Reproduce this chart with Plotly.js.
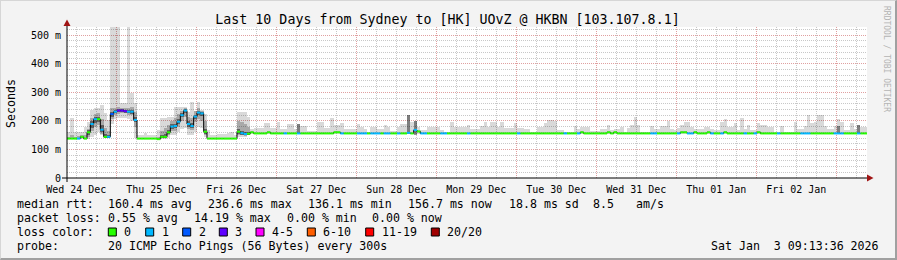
<!DOCTYPE html>
<html><head><meta charset="utf-8">
<script src="https://cdn.plot.ly/plotly-3.0.1.min.js"></script>
<style>
html,body{margin:0;padding:0;background:#f3f3f3;}
#wrap{position:relative;width:897px;height:260px;overflow:hidden;}
#chart{width:897px;height:260px;}
#frame{position:absolute;left:0;top:0;width:897px;height:260px;box-sizing:border-box;border-top:1px solid #d6d6d6;border-left:1px solid #d6d6d6;border-right:2px solid #a0a0a0;border-bottom:2px solid #a0a0a0;pointer-events:none;}
</style></head>
<body><div id="wrap"><div id="chart"></div><div id="frame"></div></div>
<script>
// ---------- DATA (hourly, starting Wed 24 Dec 09:13:36) ----------
const titleText = 'Last 10 Days from Sydney to [HK] UOvZ @ HKBN [103.107.8.1]';
const dayLabels = ['Wed 24 Dec','Thu 25 Dec','Fri 26 Dec','Sat 27 Dec','Sun 28 Dec','Mon 29 Dec','Tue 30 Dec','Wed 31 Dec','Thu 01 Jan','Fri 02 Jan'];
const firstMidnight = 14.773; // hours after start
const yTickVals = [0,100,200,300,400,500];
const yTickText = ['0','100 m','200 m','300 m','400 m','500 m'];

// median rtt (ms)
const medianMs = [
138,138,138,138,144,138,160,189,206,206,169,144,144,224,232,236,236,234,232,232,203,138,138,138,
138,138,138,136,144,144,160,180,182,197,220,236,189,182,215,229,226,162,138,138,138,138,138,138,
138,138,138,162,157,154,155,160,156,156,156,156,160,156,156,156,156,156,156,156,156,156,156,156,
156,156,156,156,156,156,156,156,160,160,156,156,156,156,156,156,156,156,156,156,156,156,156,156,
156,156,156,156,156,156,158,156,168,163,156,156,156,156,156,156,156,156,156,156,156,156,156,156,
156,156,156,156,156,156,156,156,156,156,156,156,156,156,156,156,156,156,156,156,156,156,156,156,
156,156,156,156,156,156,156,156,156,156,160,156,156,156,156,156,156,156,160,156,160,156,156,156,
156,156,156,156,156,156,156,156,156,156,156,156,156,156,156,156,160,160,156,156,160,156,156,156,
160,156,156,156,156,160,156,156,156,156,156,156,156,156,156,160,156,156,156,156,156,156,156,156,
156,156,156,156,156,156,156,156,156,156,156,156,156,156,156,156,156,156,156,156,156,156,156,156];

// lost pings (of 20) per step
const lossPings = [
0,0,0,1,0,0,0,1,1,0,1,0,1,2,1,3,3,3,1,1,1,0,0,0,
0,0,0,0,0,0,0,1,1,1,1,1,1,1,1,1,1,0,0,0,0,0,0,0,
0,0,0,0,1,1,0,0,0,0,0,0,0,0,0,0,0,1,0,0,0,1,0,0,
0,0,0,0,0,0,0,0,0,0,1,0,0,0,0,1,1,1,0,1,1,1,0,1,
1,0,0,1,0,0,1,0,1,0,1,1,0,0,0,0,1,1,0,0,0,0,0,0,
1,0,0,0,0,0,0,0,0,0,0,0,0,0,0,1,0,0,0,0,0,0,0,0,
0,0,0,0,0,1,0,0,0,1,0,0,0,0,0,0,0,0,0,0,0,0,0,0,
0,0,0,0,0,0,0,1,1,0,0,0,0,0,0,1,0,0,1,1,0,0,0,0,
0,1,0,0,1,0,0,0,0,0,0,1,0,0,1,0,0,0,0,0,0,1,0,0,
0,0,0,0,1,1,1,0,0,0,0,0,0,0,1,1,1,0,0,0,0,1,0,0];

// smoke: lowest / highest ping (ms)
const smokeLo = [
136,136,136,136,137,136,138,145,150,160,150,140,140,190,205,210,210,210,205,200,140,136,136,136,
136,136,136,134,138,138,140,150,150,160,170,175,150,150,160,180,175,145,136,136,136,136,136,136,
136,136,136,145,145,145,150,153,153,153,153,153,153,153,153,153,153,153,153,153,153,153,153,153,
153,153,153,153,153,153,153,153,153,153,153,153,153,153,153,153,153,153,153,153,153,153,153,153,
153,153,153,153,153,153,153,153,153,153,153,153,153,153,153,153,153,153,153,153,153,153,153,153,
153,153,153,153,153,153,153,153,153,153,153,153,153,153,153,153,153,153,153,153,153,153,153,153,
153,153,153,153,153,153,153,153,153,153,153,153,153,153,153,153,153,153,153,153,153,153,153,153,
153,153,153,153,153,153,153,153,153,153,153,153,153,153,153,153,153,153,153,153,153,153,153,153,
153,153,153,153,153,153,153,153,153,153,153,153,153,153,153,153,153,153,153,153,153,153,153,153,
153,153,153,153,153,153,153,153,153,153,153,153,153,153,153,153,153,153,153,153,153,153,153,153];
const smokeHi = [
162,209,162,162,162,180,197,238,244,244,255,226,203,528,528,528,261,261,528,296,261,150,150,157,
150,150,150,168,209,209,215,215,250,250,250,250,232,267,235,267,238,225,168,150,150,153,153,153,
156,162,150,232,232,232,215,170,176,176,176,191,191,176,176,195,170,170,188,188,170,189,182,182,
166,166,166,197,197,174,174,209,185,185,191,170,170,170,170,189,180,170,162,177,177,170,170,185,
177,166,166,180,189,189,220,197,201,180,168,168,180,180,177,177,168,162,162,197,180,180,180,180,
185,170,170,170,182,197,180,197,197,180,197,174,174,174,191,174,174,170,170,162,162,177,177,191,
203,203,200,168,168,162,162,162,182,170,177,177,177,166,166,166,170,170,185,168,170,170,180,162,
174,185,215,185,162,162,162,182,170,170,182,182,201,170,168,174,185,197,197,177,170,170,170,180,
180,170,168,168,197,205,180,180,191,168,209,170,185,168,168,193,185,185,177,177,162,162,182,162,
162,162,197,170,170,182,220,193,197,220,220,182,170,170,182,205,197,168,168,193,170,185,177,177];

// inner smoke band, first 55 steps (null = none)
const midLo = [
137,137,137,137,139,137,145,165,180,185,155,141,141,205,220,225,228,226,222,220,180,null,null,null,
null,null,null,135,140,140,150,165,165,180,200,215,170,168,195,205,200,150,null,null,null,null,null,null,
null,null,null,150,150,148,152];
const midHi = [
145,150,145,148,152,150,172,210,225,228,205,175,165,245,245,248,245,244,245,250,230,null,null,null,
null,null,null,145,165,175,185,200,210,225,235,245,215,210,235,245,235,200,null,null,null,null,null,null,
null,null,null,200,195,190,180];

// dense (dark) smoke core
const darkHours = [6,7,8,9,10,11,12,13,14,15,16,17,18,19,20,28,29,30,31,32,33,34,35,36,37,38,39,40,41,51,52,53,54,69,102,104,231,237];
const darkLo = [150,175,192,195,160,141,141,215,226,230,231,229,226,224,195,141,141,155,172,174,190,212,228,180,175,205,220,216,155,155,152,150,152,156,156,150,157,157];
const darkHi = [168,200,215,215,185,155,152,230,238,240,240,238,238,238,215,150,155,168,188,190,205,228,240,198,192,222,235,232,172,170,165,162,160,189,220,201,182,185];

// legend
const lossLabels = ['0','1','2','3','4-5','6-10','11-19','20/20'];
const lossMax    = [0,1,2,3,5,10,19,20];
const lossColors = ['#26ff00','#00b8ff','#0059ff','#5e00ff','#ff00fe','#ff5e00','#ff0000','#a00000'];
const rttStats  = ['160.4 ms avg','236.6 ms max','136.1 ms min','156.7 ms now','18.8 ms sd','8.5','am/s'];
const lossStats = ['0.55 % avg','14.19 % max','0.00 % min','0.00 % now'];
const probeText = '20 ICMP Echo Pings (56 Bytes) every 300s';
const stampText = 'Sat Jan  3 09:13:36 2026';

// ---------- LAYOUT GEOMETRY ----------
const W=897, H=260, ML=67, MR=30, MT=27, MB=82;
const PW=W-ML-MR, PH=H-MT-MB;
const px = x => (x-ML)/PW;
const py = y => (H-MB-y)/PH;
const MONO = 'DejaVu Sans Mono';
const nbsp = s => s.replace(/ /g,'\u00a0');

const N = medianMs.length;
const hrs = medianMs.map((_,i)=>i);
const traces = [];

function bandTrace(hours, lo, hi, color){
  const x=[], base=[], y=[];
  hours.forEach((h,i)=>{ if(lo[i]!=null && hi[i]!=null){ x.push(h+0.5); base.push(lo[i]); y.push(hi[i]-lo[i]); } });
  return {type:'bar', x:x, base:base, y:y, width:1, marker:{color:color, line:{width:0}}, hoverinfo:'skip', showlegend:false};
}
traces.push(bandTrace(hrs, smokeLo, smokeHi, 'rgba(0,0,0,0.15)'));
traces.push(bandTrace(midLo.map((_,i)=>i), midLo, midHi, 'rgba(0,0,0,0.22)'));
traces.push(bandTrace(darkHours, darkLo, darkHi, 'rgba(0,0,0,0.42)'));

// black step line
traces.push({type:'scatter', mode:'lines', x:hrs.concat([N]), y:medianMs.concat([medianMs[N-1]]),
  line:{shape:'hv', color:'#000', width:1}, hoverinfo:'skip', showlegend:false});

// coloured median segments by loss
function bucket(l){ for(let k=0;k<lossMax.length;k++){ if(l<=lossMax[k]) return k; } return lossMax.length-1; }
lossColors.forEach((c,k)=>{
  const x=[], y=[];
  medianMs.forEach((m,i)=>{ if(bucket(lossPings[i])===k){ x.push(i,i+1,null); y.push(m,m,null); } });
  if(x.length) traces.push({type:'scatter', mode:'lines', x:x, y:y, connectgaps:false,
    line:{color:c, width:2}, hoverinfo:'skip', showlegend:false});
});

// ticks / grid
const majorX = dayLabels.map((_,k)=>firstMidnight+24*k);
const minorX = [];
for(let t=firstMidnight-12; t<240; t+=6){ if(Math.abs(((t-firstMidnight)%24+24)%24)>1e-6 && t>0) minorX.push(t); }
const minorY = [];
for(let v=20; v<=520; v+=20){ if(v%100!==0) minorY.push(v); }

const RED='#e0a0a0', GRAY='#c8c8c8', DASH='1px,1px';

const annotations = [];
function ann(text, x, y, o){
  annotations.push(Object.assign({text:nbsp(text), x:px(x), y:py(y), xref:'paper', yref:'paper',
    showarrow:false, xanchor:'left', yanchor:'middle', borderpad:0,
    font:{family:MONO, size:11.6, color:'#000'}}, o||{}));
}
ann('Seconds', 11, 103, {xanchor:'center', textangle:-90, font:{family:MONO,size:11.6,color:'#000'}});
ann('RRDTOOL / TOBI OETIKER', 887, 59, {xanchor:'center', textangle:90, font:{family:MONO,size:8,color:'#b4b4b4'}});
ann('median rtt:', 16, 204);
const rttX = [107.3,207.3,307.3,407.3,507.7,592,635];
rttStats.forEach((s,i)=>ann(s, rttX[i], 204));
ann('packet loss:', 16, 218);
const lossX = [107.3,192.7,286,371];
lossStats.forEach((s,i)=>ann(s, lossX[i], 218));
ann('loss color:', 16, 232);
const boxX = [108.3,145.7,182.7,219.3,256,307.3,365.7,431.3];
const shapes = [];
lossLabels.forEach((s,i)=>{
  ann(s, boxX[i]+15, 232);
  shapes.push({type:'rect', xref:'paper', yref:'paper', x0:px(boxX[i]), x1:px(boxX[i]+8), y0:py(236), y1:py(228),
    fillcolor:lossColors[i], line:{color:'#000', width:1}});
});
ann('probe:', 16, 246);
ann(probeText, 107.3, 246);
ann(stampText, 880, 246, {xanchor:'right'});

// axes lines and arrows
shapes.push({type:'line', xref:'paper', yref:'paper', x0:px(62), x1:px(868), y0:0, y1:0, line:{color:'#000', width:1}});
shapes.push({type:'line', xref:'paper', yref:'paper', x0:0, x1:0, y0:py(182), y1:py(24), line:{color:'#000', width:1}});
shapes.push({type:'path', xref:'paper', yref:'paper', fillcolor:'#a01414', line:{width:0},
  path:`M ${px(63.5)} ${py(26)} L ${px(70.5)} ${py(26)} L ${px(67)} ${py(19.5)} Z`});
shapes.push({type:'path', xref:'paper', yref:'paper', fillcolor:'#a01414', line:{width:0},
  path:`M ${px(867)} ${py(174.5)} L ${px(867)} ${py(181.5)} L ${px(873.5)} ${py(178)} Z`});

const layout = {
  width:W, height:H, margin:{l:ML, r:MR, t:MT, b:MB, pad:0},
  paper_bgcolor:'#f3f3f3', plot_bgcolor:'#ffffff',
  barmode:'overlay', bargap:0, showlegend:false,
  title:{text:titleText, xref:'container', yref:'container', x:447.5/W, y:1-19/H, xanchor:'center', yanchor:'middle',
    font:{family:MONO, size:13.3, color:'#000'}},
  xaxis:{range:[0,240], tickmode:'array', tickvals:majorX, ticktext:dayLabels, ticklabelshift:-40,
    showgrid:true, gridcolor:RED, griddash:DASH, gridwidth:1, zeroline:false, showline:false,
    ticks:'', tickfont:{family:MONO, size:10, color:'#000'}, ticklabelstandoff:4,
    minor:{tickmode:'array', tickvals:minorX, showgrid:true, gridcolor:GRAY, griddash:DASH, gridwidth:1, ticks:''},
    fixedrange:true},
  yaxis:{range:[0,528.5], tickmode:'array', tickvals:yTickVals, ticktext:yTickText,
    showgrid:true, gridcolor:RED, griddash:DASH, gridwidth:1, zeroline:false, showline:false,
    ticks:'', tickfont:{family:MONO, size:10, color:'#000'}, ticklabelstandoff:5,
    minor:{tickmode:'array', tickvals:minorY, showgrid:true, gridcolor:GRAY, griddash:DASH, gridwidth:1, ticks:''},
    fixedrange:true},
  annotations:annotations, shapes:shapes
};
Plotly.newPlot('chart', traces, layout, {staticPlot:true, displayModeBar:false});
</script></body></html>
